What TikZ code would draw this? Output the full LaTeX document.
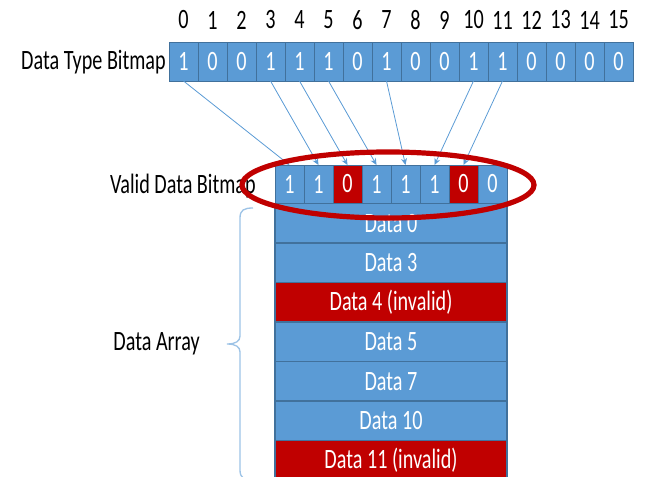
\documentclass[tikz,border=0pt]{standalone}
\usepackage{fontspec}
\setmainfont{Carlito}[FakeStretch=0.72]
\usetikzlibrary{arrows.meta}
\definecolor{cellblue}{HTML}{5B9BD5}
\definecolor{celledge}{HTML}{41719C}
\definecolor{cellred}{HTML}{C00000}
\definecolor{bracecol}{HTML}{9DC3E6}
\tikzset{
  bit/.style={draw=celledge, line width=0.6pt, fill=cellblue, text=white,
    minimum width=21.75pt, minimum height=29.25pt, inner sep=0pt, outer sep=0pt,
    anchor=north west, font=\fontsize{21}{24}\selectfont},
  vbit/.style={bit, minimum height=28.5pt},
  badbit/.style={fill=cellred},
  row/.style={draw=celledge, line width=0.8pt, fill=cellblue, text=white,
    minimum width=174pt, minimum height=29.6pt, inner sep=0pt, outer sep=0pt,
    anchor=north west, font=\fontsize{21}{24}\selectfont},
  badrow/.style={fill=cellred},
  lbl/.style={font=\fontsize{21}{24}\selectfont, inner sep=0pt},
  link/.style={draw=cellblue, line width=0.6pt,
    -{Stealth[length=5pt,width=4.5pt]}},
}
\begin{document}
\begin{tikzpicture}[x=0.75pt,y=-0.75pt]
\useasboundingbox (0,0) rectangle (650,477);

% Data type bitmap with bit indices
\foreach \b [count=\i from 0] in {1,0,0,1,1,1,0,1,0,0,1,1,0,0,0,0} {
  \node[bit] (t\i) at ({169+29*\i},42) {\b};
  \node[lbl] (n\i) at ({183.5+29*\i},20) {\i};
}
\node[lbl, anchor=east] (tlabel) at (166,62) {Data Type Bitmap};

% Valid data bitmap
\foreach \b/\s [count=\i from 0] in {1/,1/,0/badbit,1/,1/,1/,0/badbit,0/} {
  \node[vbit,\s] (v\i) at ({275+29*\i},165) {\b};
}
\node[lbl, anchor=east] (vlabel) at (256,186) {Valid Data Bitmap};

% Links from set type bits to valid bits
\foreach \s/\d in {0/0,3/1,4/2,5/3,7/4,10/5,11/6} {
  \draw[link] (t\s.south) -- (v\d.north);
}

% Data array rows
\node[row] (d0) at (275,203.5) {Data 0};
\node[row] (d1) at (275,243) {Data 3};
\node[row, badrow] (d2) at (275,282.5) {Data 4 (invalid)};
\node[row] (d3) at (275,322) {Data 5};
\node[row] (d4) at (275,361.5) {Data 7};
\node[row] (d5) at (275,401) {Data 10};
\node[row, badrow] (d6) at (275,440.5) {Data 11 (invalid)};

% Brace grouping the array
\coordinate (btop) at (253,208);
\coordinate (btip) at (227,344);
\coordinate (bbot) at (253,480);
\draw[bracecol, line width=1pt]
  (btop) .. controls (244,208) and (240,210) .. (240,218)
  -- (240,336) .. controls (240,341) and (236,344) .. (btip)
  .. controls (236,344) and (240,347) .. (240,352)
  -- (240,470) .. controls (240,478) and (244,480) .. (bbot);
\node[lbl, anchor=east] (alabel) at (200,344) {Data Array};

% Highlight around the valid bitmap
\draw[cellred, line width=3.9pt] (388,185) ellipse [x radius=146, y radius=33];
\end{tikzpicture}
\end{document}
